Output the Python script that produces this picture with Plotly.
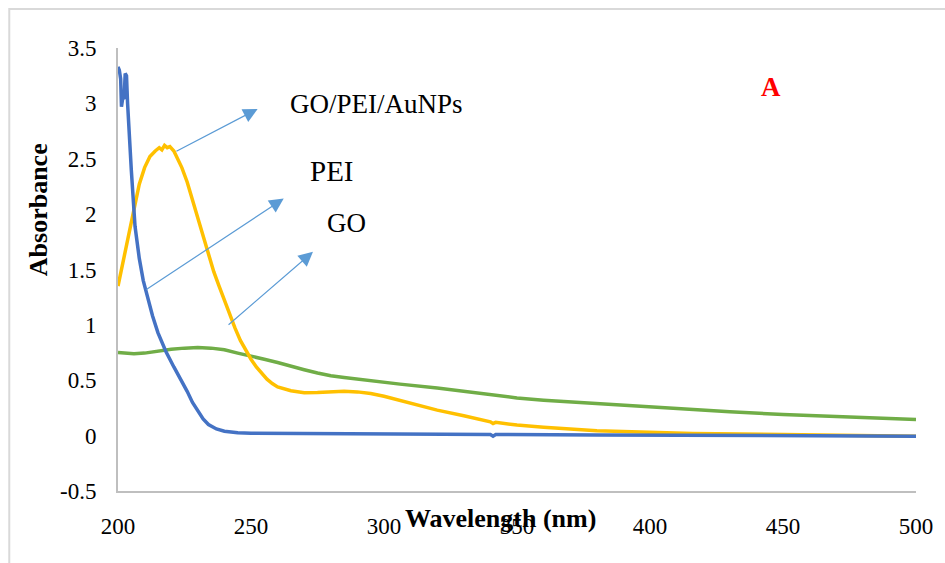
import plotly.graph_objects as go

# ---- data ----
wl_au = [200, 200.5, 201, 201.3, 201.8, 202.3, 202.7, 203.2, 203.6, 204.2, 205, 206.4, 208, 209.5,
         211, 213, 215, 218, 221, 224, 226, 228, 230, 232, 234, 237, 240, 245, 250, 270, 300,
         330, 340, 341, 342, 380, 416, 450, 500]
abs_au = [3.33, 3.30, 3.22, 2.97, 3.05, 3.04, 3.27, 3.25, 3.00, 2.72, 2.40, 1.89, 1.60, 1.40,
          1.25, 1.08, 0.93, 0.76, 0.62, 0.49, 0.40, 0.30, 0.22, 0.15, 0.10, 0.06, 0.04, 0.025, 0.022, 0.018, 0.015,
          0.012, 0.01, -0.005, 0.01, 0.006, 0.004, 0.0, -0.005]

wl_pei = [200, 202, 204, 206, 208, 210, 212, 214, 215.5, 216.5, 217.5, 218.5, 219.5, 221, 222.5,
          224, 226, 228, 230, 232, 234, 236, 238, 240, 242, 244, 246, 248, 250, 252, 254, 256, 258,
          260, 265, 270, 275, 280, 285, 290, 295, 300, 305, 310, 320, 330, 340, 341, 342, 350,
          360, 380, 400, 416, 450, 500]
abs_pei = [1.35, 1.58, 1.82, 2.05, 2.27, 2.42, 2.52, 2.57, 2.60, 2.58, 2.62, 2.60, 2.61, 2.57, 2.50,
           2.42, 2.29, 2.13, 1.96, 1.79, 1.63, 1.48, 1.35, 1.22, 1.09, 0.97, 0.86, 0.77, 0.69, 0.62, 0.56, 0.51, 0.47,
           0.44, 0.405, 0.388, 0.39, 0.398, 0.40, 0.395, 0.38, 0.355, 0.325, 0.29, 0.23, 0.18, 0.125, 0.11, 0.12, 0.095,
           0.075, 0.045, 0.03, 0.02, 0.01, -0.005]

wl_go = [200, 203, 206, 210, 215, 220, 225, 230, 235, 240, 245, 250, 255, 260, 265, 270, 275, 280,
         285, 290, 295, 300, 306, 320, 330, 340, 350, 360, 380, 400, 416, 430, 450, 475, 500]
abs_go = [0.75, 0.745, 0.74, 0.745, 0.765, 0.78, 0.79, 0.795, 0.79, 0.775, 0.745, 0.72, 0.69, 0.66,
          0.625, 0.595, 0.565, 0.54, 0.525, 0.51, 0.497, 0.485, 0.465, 0.43, 0.40, 0.365, 0.34, 0.32, 0.29,
          0.26, 0.23, 0.215, 0.19, 0.165, 0.145]

x_ticks = [200, 250, 300, 350, 400, 450, 500]
x_ticklabels = ["200", "250", "300", "350", "400", "450", "500"]
y_ticks = [-0.5, 0, 0.5, 1, 1.5, 2, 2.5, 3, 3.5]
y_ticklabels = ["-0.5", "0", "0.5", "1", "1.5", "2", "2.5", "3", "3.5"]

series_names = ["GO/PEI/AuNPs", "PEI", "GO"]
series_colors = ["#4472C4", "#FFC000", "#70AD47"]

# label annotations and arrows (tail, head) in data units
label_text = ["GO/PEI/AuNPs", "PEI", "GO"]
label_pos = [(297.1, 2.99), (280.6, 2.39), (286.0, 1.92)]
label_sizes = [27, 29, 27]
arrow_tail = [(221.4, 2.56), (210.1, 1.31), (241.0, 0.99)]
arrow_head = [(252.5, 2.95), (262.3, 2.14), (273.3, 1.66)]

FONT = "Liberation Serif, Times New Roman, serif"

fig = go.Figure()
for wl, ab, name, col in [(wl_go, abs_go, series_names[2], series_colors[2]),
                          (wl_pei, abs_pei, series_names[1], series_colors[1]),
                          (wl_au, abs_au, series_names[0], series_colors[0])]:
    fig.add_trace(go.Scatter(x=wl, y=ab, mode="lines", name=name,
                             line=dict(color=col, width=3.5), showlegend=False))

annotations = []
for (tx, ty), (hx, hy) in zip(arrow_tail, arrow_head):
    annotations.append(dict(x=hx, y=hy, ax=tx, ay=ty, xref="x", yref="y", axref="x", ayref="y",
                            text="", showarrow=True, arrowhead=2, arrowsize=2.4, arrowwidth=1.2,
                            arrowcolor="#5B9BD5", standoff=0, startstandoff=0))
for t, (lx, ly), s in zip(label_text, label_pos, label_sizes):
    annotations.append(dict(x=lx, y=ly, xref="x", yref="y", text=t, showarrow=False,
                            xanchor="center", yanchor="middle",
                            font=dict(family=FONT, size=s, color="black")))
annotations.append(dict(x=(773 - 118) / 800, y=(491 - 87) / 443, xref="paper", yref="paper",
                        text="<b>A</b>", showarrow=False, xanchor="center", yanchor="middle",
                        font=dict(family=FONT, size=27, color="#FF0000")))
annotations.append(dict(x=(38 - 118) / 800, y=(491 - 210) / 443, xref="paper", yref="paper",
                        text="<b>Absorbance</b>", showarrow=False, textangle=-90,
                        xanchor="center", yanchor="middle",
                        font=dict(family=FONT, size=26, color="black")))
annotations.append(dict(x=(501 - 118) / 800, y=(491 - 518) / 443, xref="paper", yref="paper",
                        text="<b>Wavelength (nm)</b>", showarrow=False,
                        xanchor="center", yanchor="middle",
                        font=dict(family=FONT, size=26, color="black")))

fig.update_layout(
    width=945, height=563, autosize=False,
    margin=dict(l=118, r=27, t=48, b=72),
    paper_bgcolor="white", plot_bgcolor="white",
    annotations=annotations,
    shapes=[dict(type="rect", xref="paper", yref="paper",
                 x0=(9 - 118) / 800, x1=(950 - 118) / 800,
                 y0=(491 - 580) / 443, y1=(491 - 9) / 443,
                 line=dict(color="#D9D9D9", width=2), layer="below")],
    xaxis=dict(range=[200, 500], tickvals=x_ticks, ticktext=x_ticklabels,
               showgrid=False, zeroline=False, showline=True, linecolor="#BFBFBF", linewidth=2,
               ticks="", ticklabelstandoff=13,
               tickfont=dict(family=FONT, size=23, color="black")),
    yaxis=dict(range=[-0.5, 3.5], tickvals=y_ticks, ticktext=y_ticklabels,
               showgrid=False, zeroline=False, showline=True, linecolor="#BFBFBF", linewidth=2,
               ticks="", ticklabelstandoff=15,
               tickfont=dict(family=FONT, size=23, color="black")),
)

fig.write_html("out.html")
